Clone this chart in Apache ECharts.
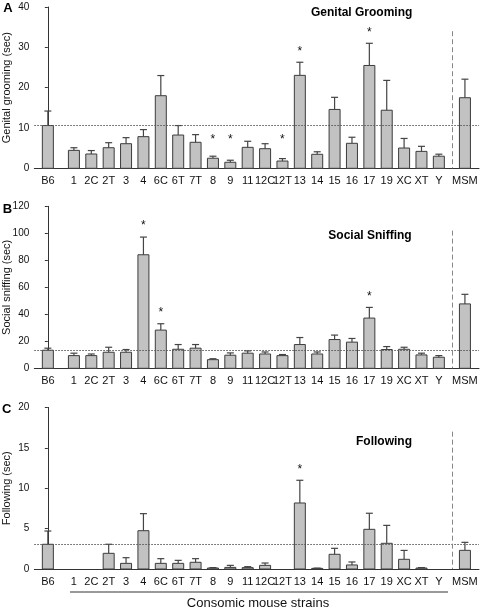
<!DOCTYPE html>
<html><head><meta charset="utf-8">
<script src="https://cdn.jsdelivr.net/npm/echarts@6/dist/echarts.min.js"></script>
<style>html,body{margin:0;padding:0;background:#fff}#c{width:480px;height:611px}</style>
</head><body><div id="c"></div>
<script>
const strains = ['B6','1','2C','2T','3','4','6C','6T','7T','8','9','11','12C','12T','13','14','15','16','17','19','XC','XT','Y','MSM'];

const groomMean = [10.6,4.45,3.55,5.1,6.1,7.85,18.0,8.25,6.45,2.5,1.5,5.2,4.86,1.8,23.05,3.47,14.6,6.2,25.5,14.4,5.03,4.2,3.0,17.5];
const groomSE   = [3.6,0.65,0.85,1.25,1.5,1.75,5.0,2.35,1.9,0.5,0.5,1.5,1.24,0.6,3.25,0.63,3.0,1.5,5.5,7.4,2.37,1.25,0.5,4.6];
const groomSig  = ['8','9','12T','13','17'];

const sniffMean = [13.4,9.4,9.4,11.9,11.9,84.1,28.3,14.1,14.9,6.4,9.7,11.2,10.6,9.4,17.6,10.6,21.3,19.4,37.2,13.9,14.1,9.9,8.2,47.7];
const sniffSE   = [1.5,1.8,1.2,3.7,2.0,13.1,4.7,3.5,2.7,0.7,1.7,1.7,1.5,0.8,5.2,1.5,3.3,2.7,7.9,2.2,1.5,1.3,1.2,7.1];
const sniffSig  = ['4','6C','17'];

const followMean = [3.06,0,0,1.94,0.7,4.74,0.7,0.7,0.83,0.12,0.2,0.17,0.45,0,8.17,0.08,1.82,0.5,4.91,3.18,1.2,0.12,0,2.31];
const followSE   = [1.64,0,0,1.12,0.7,2.11,0.58,0.37,0.45,0.05,0.25,0.12,0.29,0,2.81,0.03,0.74,0.37,1.99,2.22,1.1,0.05,0,0.99];
const followSig  = ['13'];

const yMax = [40,120,20];
const yStep = [10,20,5];
const yNames = ['Genital grooming (sec)','Social sniffing (sec)','Following (sec)'];
const panelTitles = ['Genital Grooming','Social Sniffing','Following'];
const panelLetters = ['A','B','C'];
const xAxisTitle = 'Consomic mouse strains';

// positions: control B6, gap, consomic strains, gap, MSM
const positions = strains.map((s,i)=> i===0 ? 0 : (i===strains.length-1 ? 24 : 0.5+i));
const posName = {};
positions.forEach((p,i)=>{posName[p.toFixed(2)] = strains[i];});

const panels = [
  {mean: groomMean, se: groomSE, sig: groomSig, floor: 4.3},
  {mean: sniffMean, se: sniffSE, sig: sniffSig, floor: 0},
  {mean: followMean, se: followSE, sig: followSig, floor: 0}
];

const gridTops = [7, 206.3, 407.4];
const gridHeights = [161.3, 162, 161.6];
const FONT = '"Liberation Sans", Arial, Helvetica, sans-serif';
const BAR_W = 11;

const grids = [], xAxes = [], yAxes = [], series = [];
panels.forEach((pn, k)=>{
  grids.push({left: 34.3, top: gridTops[k], width: 444.7, height: gridHeights[k], containLabel:false, outerBoundsMode:'none'});
  xAxes.push({
    type:'value', gridIndex:k, min:-0.78, max:24.81,
    splitLine:{show:false},
    axisTick:{show:false},
    axisLine:{lineStyle:{color:'#333', width:1}},
    axisLabel:{
      customValues: positions,
      formatter: v => posName[Number(v).toFixed(2)] || '',
      fontFamily: FONT, fontSize: 11, color:'#111', margin: 7
    }
  });
  yAxes.push({
    type:'value', gridIndex:k, min:0, max:yMax[k], interval:yStep[k],
    name: yNames[k], nameLocation:'middle', nameGap: 22, nameMoveOverlap:false,
    nameTextStyle:{fontFamily: FONT, fontSize: 11, color:'#111'},
    splitLine:{show:false},
    axisLine:{show:true, lineStyle:{color:'#333', width:1}},
    axisTick:{show:true, length:3, lineStyle:{color:'#333'}},
    axisLabel:{fontFamily: FONT, fontSize: 10, color:'#111', margin: 5}
  });
  // reference lines (B6 level + separator before MSM)
  series.push({
    type:'line', xAxisIndex:k, yAxisIndex:k, data:[], silent:true, animation:false, symbol:'none',
    markLine:{
      silent:true, symbol:'none', animation:false, label:{show:false},
      data:[
        {yAxis: pn.mean[0], lineStyle:{type:[1.5,1.5], color:'#555', width:1}},
        [{coord:[23.25, yMax[k]*0.85], lineStyle:{type:[5,3], color:'#888', width:1}}, {coord:[23.25, 0]}]
      ]
    }
  });
  // bars + error bars + significance stars
  series.push({
    type:'custom', xAxisIndex:k, yAxisIndex:k, silent:true, animation:false,
    data: positions.map((p,i)=>[p, pn.mean[i], pn.se[i], pn.sig.indexOf(strains[i])>=0 ? 1 : 0, Math.max(pn.mean[i]+pn.se[i], pn.floor)]),
    renderItem: function(params, api){
      const x = api.value(0), m = api.value(1), s = api.value(2), sig = api.value(3), base = api.value(4);
      const children = [];
      const pz = api.coord([x, 0]);
      const p0 = api.coord([x, m]);
      if (m > 0) {
        children.push({type:'rect', shape:{x: pz[0]-BAR_W/2, y: p0[1], width: BAR_W, height: pz[1]-p0[1]},
          style:{fill:'#c2c2c2', stroke:'#3c3c3c', lineWidth:1}});
      }
      if (s > 0) {
        const p1 = api.coord([x, m+s]);
        children.push({type:'line', shape:{x1:p0[0], y1:p0[1], x2:p1[0], y2:p1[1]}, style:{stroke:'#444', lineWidth:1.2}});
        children.push({type:'line', shape:{x1:p1[0]-3.5, y1:p1[1], x2:p1[0]+3.5, y2:p1[1]}, style:{stroke:'#444', lineWidth:1.2}});
      }
      if (sig) {
        const pb = api.coord([x, base]);
        children.push({type:'text', x: pb[0], y: pb[1]-11, style:{text:'*', fontSize: 12, fontFamily: FONT, fill:'#111', align:'center', verticalAlign:'middle'}});
      }
      return {type:'group', children: children};
    }
  });
});

const letterPos = [[8,8.5],[7.5,209],[6.7,409.7]];
const titlePos = [[361.7,12.7],[370,235.7],[384,441.7]];
const graphics = [];
panels.forEach((pn,k)=>{
  graphics.push({type:'text', x: letterPos[k][0], y: letterPos[k][1], style:{text: panelLetters[k], font: 'bold 13px '+FONT, fill:'#000', align:'center', verticalAlign:'middle'}});
  graphics.push({type:'text', x: titlePos[k][0], y: titlePos[k][1], style:{text: panelTitles[k], font: 'bold 12px '+FONT, fill:'#000', align:'center', verticalAlign:'middle'}});
});
graphics.push({type:'line', shape:{x1:70, y1:592, x2:448, y2:592}, style:{stroke:'#999', lineWidth:2}});
graphics.push({type:'text', x: 258, y: 603, style:{text: xAxisTitle, font: '13px '+FONT, fill:'#111', align:'center', verticalAlign:'middle'}});

const chart = echarts.init(document.getElementById('c'), null, {renderer:'canvas'});
chart.setOption({
  animation:false,
  grid: grids, xAxis: xAxes, yAxis: yAxes, series: series, graphic: graphics
});
</script>
</body></html>
